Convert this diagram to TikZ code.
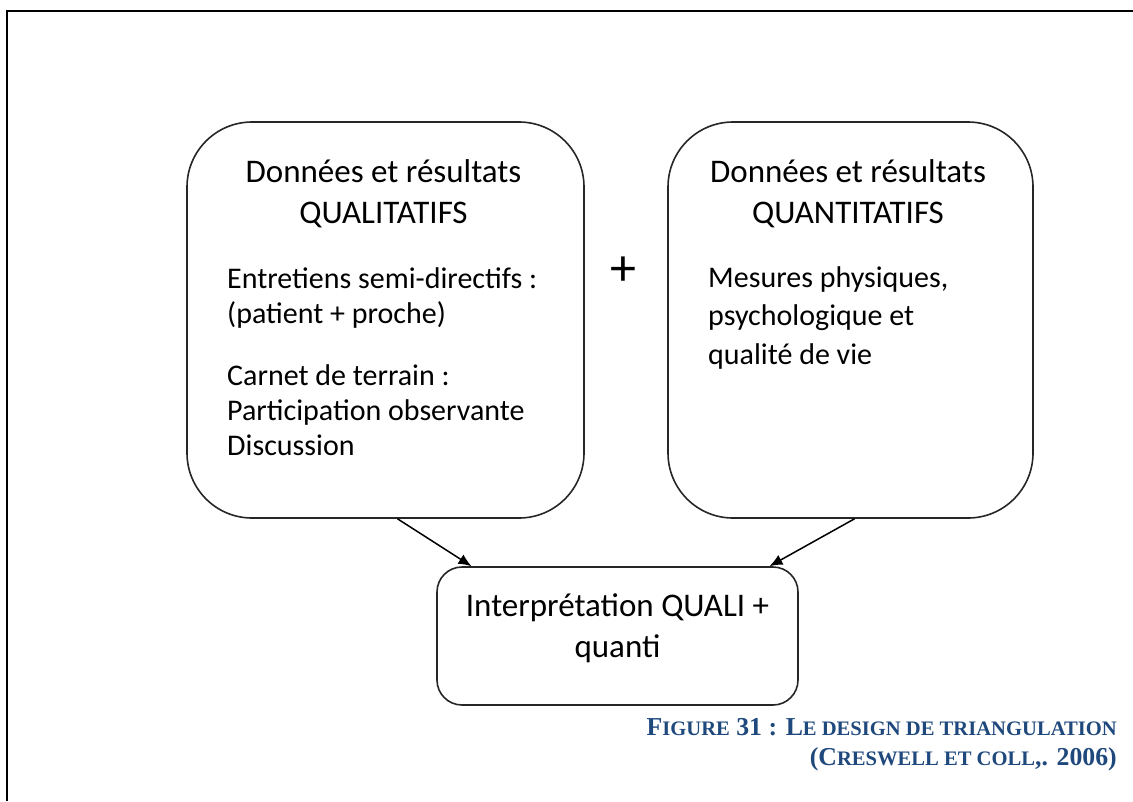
\documentclass[tikz,border=0pt]{standalone}
\usepackage{fontspec}
\setmainfont{Carlito}
\newfontfamily\capfont{Liberation Serif}
\usetikzlibrary{arrows.meta}
\definecolor{capblue}{HTML}{1F497D}
\newcommand\smcaps{\fontsize{20.6}{24}\selectfont}
\tikzset{
  roundbox/.style = {draw=black!85, line width=1.6pt, rounded corners=#1, inner sep=0pt},
  roundbox/.default = 65pt,
  headtext/.style = {font=\fontsize{33}{41}\selectfont, align=center, inner sep=0pt},
  listtext/.style = {font=\fontsize{30}{35}\selectfont, align=left, inner sep=0pt},
  figcaption/.style = {font=\capfont\bfseries\fontsize{25.8}{30}\selectfont, text=capblue, align=right, inner sep=0pt},
  pageframe/.style = {line width=2pt}
}
\tikzset{>={Latex[length=13pt,width=11pt]}}

\begin{document}
\begin{tikzpicture}[x=1pt,y=-1pt]
  \useasboundingbox (0,0) rectangle (1133,801);
  % frame
  \draw[pageframe] (7,801) -- (7,11) -- (1133,11);
  % boxes
  \node[roundbox, minimum width=397pt, minimum height=396pt] (quali)  at (385.5,320) {};
  \node[roundbox, minimum width=365pt, minimum height=396pt] (quanti) at (850.5,320) {};
  \node[roundbox=25pt, minimum width=361pt, minimum height=138pt] (interp) at (617.5,636) {};
  % texts (base = last line)
  \node[headtext, anchor=base] (qualihead) at (383.5,223) {Données et résultats\\QUALITATIFS};
  \node[listtext, anchor=base west] (qualientr) at (227,323) {Entretiens semi-directifs :\\(patient + proche)};
  \node[listtext, anchor=base west] (qualicarn) at (227,455) {Carnet de terrain :\\Participation observante\\Discussion};
  \node[headtext, anchor=base] (quantihead) at (848,223) {Données et résultats\\QUANTITATIFS};
  \node[listtext, font=\fontsize{30}{38.5}\selectfont, anchor=base west] (quantimes) at (708,364) {Mesures physiques,\\psychologique et\\qualité de vie};
  \node[headtext, anchor=base] (interptext) at (617.5,657) {Interprétation QUALI +\\quanti};
  \node[font=\fontsize{52}{60}\selectfont, inner sep=0pt] (plus) at (623,271) {+};
  % arrows
  \draw[->, line width=1.5pt] ([xshift=12pt]quali.south) -- ([xshift=-146pt]interp.north);
  \draw[->, line width=1.5pt] ([xshift=4pt]quanti.south) -- ([xshift=152pt]interp.north);
  % caption
  \node[figcaption, anchor=base east] (figcap) at (1117,765)
    {F{\smcaps IGURE} 31 : L{\smcaps E DESIGN DE TRIANGULATION}\\({C}{\smcaps RESWELL ET COLL}{,}. 2006)};
\end{tikzpicture}
\end{document}
